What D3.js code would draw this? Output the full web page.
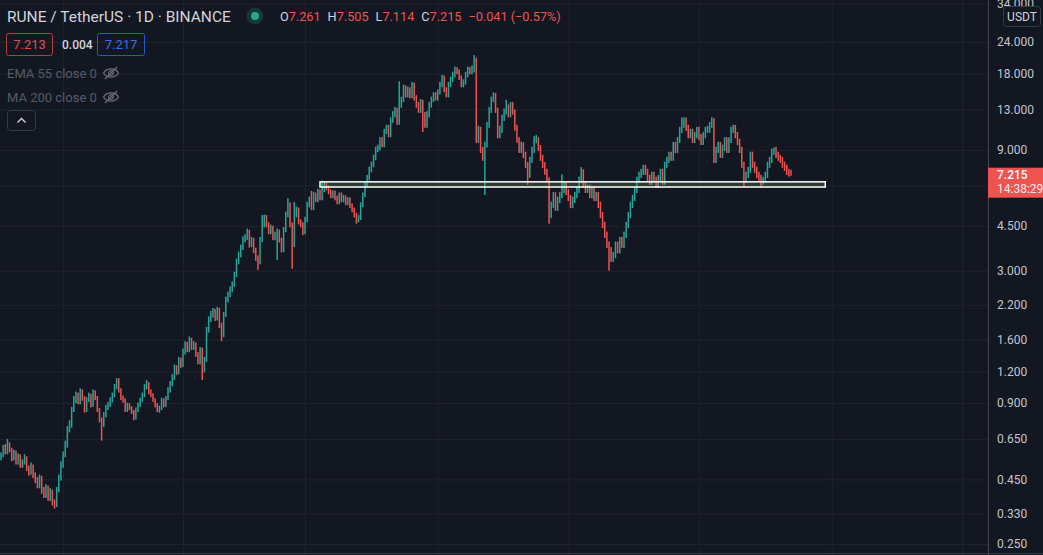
<!DOCTYPE html>
<html>
<head>
<meta charset="utf-8">
<title>RUNE / TetherUS</title>
<script src="https://cdn.jsdelivr.net/npm/d3@7"></script>
<style>
  html, body { margin: 0; padding: 0; background: #131722; overflow: hidden; }
  svg { display: block; }
</style>
</head>
<body>
<script>
// daily candles (open of each day = previous close)
var firstOpen = 0.55;
var closes = [
  0.561, 0.598, 0.576, 0.615, 0.587, 0.546, 0.576, 0.527, 0.556, 0.512,
  0.527, 0.546, 0.498, 0.481, 0.507, 0.467, 0.447, 0.427, 0.455, 0.408,
  0.390, 0.416, 0.380, 0.401, 0.366, 0.356, 0.408, 0.455, 0.512, 0.561,
  0.615, 0.704, 0.737, 0.845, 0.925, 0.967, 0.909, 0.995, 0.941, 0.845,
  0.925, 0.967, 0.884, 0.995, 0.941, 0.845, 0.771, 0.737, 0.807, 0.860,
  0.884, 0.925, 0.967, 1.04, 1.10, 1.01, 0.941, 0.925, 0.845, 0.884,
  0.860, 0.830, 0.786, 0.845, 0.884, 0.925, 0.967, 1.04, 1.07, 0.995,
  0.967, 0.925, 0.884, 0.845, 0.860, 0.925, 0.884, 0.941, 1.01, 1.07,
  1.13, 1.24, 1.19, 1.33, 1.27, 1.43, 1.53, 1.46, 1.60, 1.49,
  1.53, 1.40, 1.31, 1.46, 1.22, 1.33, 1.75, 1.92, 2.01, 2.06,
  1.95, 2.10, 1.83, 1.67, 2.01, 2.30, 2.41, 2.52, 2.64, 2.89,
  3.25, 3.46, 3.69, 3.97, 4.05, 4.27, 3.80, 3.97, 3.62, 3.37,
  3.25, 3.97, 4.55, 4.85, 4.55, 4.27, 4.43, 4.05, 4.16, 4.27,
  3.97, 3.62, 4.35, 4.98, 5.46, 4.55, 3.80, 4.98, 5.21, 4.67,
  4.55, 4.27, 4.76, 5.46, 5.71, 5.32, 5.97, 5.71, 6.14, 5.81,
  6.25, 6.55, 6.37, 6.14, 5.92, 6.08, 5.81, 5.61, 5.97, 5.71,
  5.81, 5.56, 5.71, 5.41, 5.21, 4.98, 4.76, 4.85, 5.46, 5.97,
  6.55, 6.97, 7.50, 7.85, 8.37, 9.00, 9.16, 9.85, 9.41, 10.6,
  11.0, 10.3, 11.8, 12.4, 12.9, 11.6, 13.5, 14.2, 15.8, 14.8,
  15.5, 14.7, 16.2, 14.4, 13.5, 12.9, 13.9, 12.4, 11.3, 12.4,
  13.5, 14.2, 14.8, 14.4, 15.2, 16.2, 17.3, 15.5, 14.8, 16.2,
  17.0, 17.8, 18.6, 18.3, 17.3, 16.2, 16.6, 17.8, 18.6, 18.3,
  18.6, 20.4, 9.85, 10.8, 9.00, 8.37, 9.41, 11.3, 12.9, 14.2,
  14.8, 12.9, 10.3, 10.8, 12.0, 12.7, 13.2, 12.4, 13.5, 12.7,
  11.0, 9.85, 9.00, 9.41, 8.60, 7.85, 7.17, 8.21, 9.00, 9.85,
  9.85, 9.16, 8.37, 7.85, 7.37, 6.85, 4.98, 5.46, 5.97, 5.32,
  5.71, 5.97, 6.25, 6.55, 6.14, 5.81, 5.46, 5.71, 5.97, 6.25,
  6.85, 7.37, 6.55, 6.25, 6.37, 5.97, 6.25, 5.81, 5.97, 5.46,
  4.98, 4.55, 4.16, 3.80, 3.62, 3.37, 3.46, 3.80, 3.62, 3.97,
  3.80, 4.16, 4.55, 4.98, 5.46, 5.81, 6.25, 6.85, 7.17, 7.37,
  7.64, 7.37, 6.97, 6.73, 7.17, 6.85, 6.55, 6.97, 7.37, 6.73,
  7.85, 8.21, 8.60, 8.37, 9.41, 9.00, 9.85, 10.8, 11.3, 11.8,
  11.0, 10.3, 10.6, 9.85, 10.3, 10.8, 10.1, 9.67, 10.3, 10.8,
  10.8, 11.3, 11.8, 8.21, 9.00, 9.41, 8.60, 9.16, 9.85, 9.00,
  9.85, 10.8, 11.0, 10.3, 9.67, 9.00, 7.85, 6.85, 7.17, 7.50,
  8.60, 7.85, 7.50, 7.17, 6.97, 6.73, 6.85, 7.17, 7.85, 8.21,
  8.84, 9.00, 8.60, 8.37, 8.21, 7.85, 7.64, 7.37, 7.261, 7.215
];
var highs = [
  0.575, 0.615, 0.62, 0.65, 0.63, 0.60, 0.59, 0.585, 0.57, 0.565,
  0.54, 0.565, 0.555, 0.51, 0.525, 0.515, 0.48, 0.46, 0.47, 0.465,
  0.42, 0.43, 0.425, 0.415, 0.41, 0.375, 0.42, 0.47, 0.53, 0.58,
  0.64, 0.73, 0.77, 0.87, 0.96, 1.0, 0.99, 1.03, 1.02, 0.96,
  0.95, 0.99, 0.98, 1.02, 1.01, 0.96, 0.86, 0.79, 0.83, 0.885,
  0.91, 0.95, 0.99, 1.07, 1.13, 1.13, 1.03, 0.965, 0.94, 0.905,
  0.90, 0.875, 0.845, 0.865, 0.905, 0.945, 0.99, 1.07, 1.11, 1.09,
  1.02, 0.985, 0.94, 0.90, 0.88, 0.945, 0.94, 0.96, 1.04, 1.10,
  1.17, 1.28, 1.27, 1.37, 1.36, 1.48, 1.58, 1.57, 1.65, 1.63,
  1.58, 1.56, 1.43, 1.50, 1.49, 1.37, 1.80, 1.98, 2.08, 2.14,
  2.12, 2.16, 2.14, 1.87, 2.06, 2.37, 2.48, 2.60, 2.72, 2.97,
  3.35, 3.57, 3.80, 4.10, 4.18, 4.40, 4.35, 4.08, 4.05, 3.70,
  3.45, 4.08, 4.98, 5.00, 4.98, 4.66, 4.56, 4.52, 4.28, 4.40,
  4.36, 4.05, 4.46, 5.13, 5.80, 5.58, 4.65, 5.60, 5.37, 5.33,
  4.78, 4.66, 4.90, 5.62, 5.88, 6.20, 6.15, 6.10, 6.32, 6.28,
  6.80, 6.74, 6.70, 6.51, 6.28, 6.22, 6.22, 5.94, 6.11, 6.11,
  5.98, 5.94, 5.84, 5.84, 5.53, 5.33, 5.09, 4.99, 5.59, 6.11,
  6.74, 7.17, 7.72, 8.08, 8.61, 9.26, 9.43, 10.1, 10.1, 10.9,
  11.3, 11.3, 12.1, 12.8, 13.3, 13.2, 16.8, 14.6, 16.3, 16.2,
  16.0, 15.9, 16.7, 16.6, 14.8, 13.9, 14.3, 14.2, 12.7, 12.8,
  13.9, 14.6, 15.2, 15.2, 15.6, 16.7, 17.8, 17.7, 15.9, 16.7,
  17.5, 18.3, 19.2, 19.1, 18.7, 17.7, 17.1, 18.3, 19.2, 19.1,
  19.4, 21.3, 20.8, 11.2, 11.1, 9.25, 9.7, 11.6, 13.3, 14.6,
  15.2, 15.1, 13.2, 11.2, 12.4, 13.1, 14.2, 13.6, 13.9, 13.9,
  13.0, 11.3, 10.1, 9.7, 9.65, 8.85, 8.05, 8.45, 9.26, 10.2,
  10.3, 10.1, 9.4, 8.6, 8.05, 7.58, 7.02, 5.62, 6.14, 6.12,
  5.88, 6.14, 7.2, 6.74, 6.72, 6.3, 5.97, 5.88, 6.14, 6.43,
  7.05, 7.7, 7.55, 6.74, 6.55, 6.55, 6.43, 6.43, 6.14, 6.14,
  5.62, 5.12, 4.68, 4.28, 3.91, 3.72, 3.56, 3.91, 3.91, 4.08,
  4.08, 4.28, 4.68, 5.12, 5.62, 5.98, 6.43, 7.05, 7.38, 7.58,
  7.86, 7.86, 7.58, 7.17, 7.38, 7.38, 7.05, 7.17, 7.58, 7.58,
  8.08, 8.45, 8.85, 8.85, 9.68, 9.68, 10.1, 11.1, 12.1, 12.1,
  12.1, 11.3, 10.9, 10.9, 10.6, 11.1, 11.1, 10.4, 10.6, 11.1,
  11.2, 11.6, 12.1, 12.0, 9.26, 9.68, 9.68, 9.43, 10.1, 10.1,
  10.1, 11.1, 11.3, 11.3, 10.6, 9.95, 9.26, 8.08, 7.38, 7.72,
  8.85, 8.85, 8.08, 7.72, 7.38, 7.17, 7.05, 7.38, 8.08, 8.45,
  9.1, 9.2, 9.26, 8.85, 8.6, 8.45, 8.08, 7.86, 7.58, 7.505
];
var lows = [
  0.535, 0.55, 0.565, 0.565, 0.575, 0.53, 0.535, 0.515, 0.515, 0.50,
  0.50, 0.515, 0.485, 0.465, 0.47, 0.455, 0.435, 0.415, 0.415, 0.395,
  0.38, 0.38, 0.37, 0.37, 0.355, 0.345, 0.35, 0.40, 0.445, 0.50,
  0.55, 0.60, 0.69, 0.72, 0.83, 0.90, 0.89, 0.89, 0.92, 0.825,
  0.83, 0.91, 0.865, 0.87, 0.925, 0.83, 0.755, 0.64, 0.725, 0.79,
  0.845, 0.87, 0.905, 0.95, 1.02, 0.99, 0.925, 0.905, 0.83, 0.83,
  0.845, 0.815, 0.77, 0.775, 0.83, 0.87, 0.91, 0.95, 1.02, 0.975,
  0.95, 0.91, 0.865, 0.83, 0.825, 0.845, 0.865, 0.87, 0.925, 0.99,
  1.05, 1.11, 1.16, 1.17, 1.24, 1.25, 1.40, 1.43, 1.43, 1.46,
  1.46, 1.37, 1.28, 1.28, 1.11, 1.19, 1.31, 1.71, 1.88, 1.96,
  1.90, 1.91, 1.78, 1.58, 1.64, 1.97, 2.25, 2.36, 2.47, 2.59,
  2.83, 3.18, 3.39, 3.62, 3.88, 3.97, 3.70, 3.72, 3.52, 3.28,
  3.02, 3.18, 3.89, 4.45, 4.45, 4.18, 4.18, 3.96, 3.96, 3.30,
  3.88, 3.54, 3.55, 4.26, 4.88, 4.45, 3.05, 3.72, 4.88, 4.57,
  4.45, 4.15, 4.18, 4.66, 5.34, 5.21, 5.21, 5.59, 5.59, 5.69,
  5.69, 6.12, 6.23, 6.01, 5.80, 5.80, 5.69, 5.49, 5.49, 5.59,
  5.59, 5.44, 5.44, 5.30, 5.10, 4.87, 4.60, 4.66, 4.75, 5.34,
  5.85, 6.41, 6.82, 7.34, 7.68, 8.19, 8.81, 8.96, 9.21, 9.21,
  10.4, 10.1, 10.1, 11.5, 12.1, 11.3, 11.3, 13.2, 13.9, 14.5,
  14.5, 14.4, 14.4, 14.1, 13.2, 12.6, 12.6, 10.6, 11.0, 11.0,
  12.1, 13.2, 13.9, 14.1, 14.1, 14.9, 15.9, 15.2, 14.5, 14.5,
  15.9, 16.7, 17.4, 17.9, 17.0, 15.9, 15.9, 16.3, 17.4, 17.9,
  17.9, 18.2, 9.6, 9.6, 8.75, 8.15, 5.97, 9.2, 11.0, 12.6,
  13.9, 12.6, 10.0, 10.0, 10.5, 11.7, 12.4, 12.1, 12.1, 12.4,
  10.7, 9.6, 8.75, 8.75, 8.35, 7.62, 6.55, 6.98, 8.0, 8.75,
  9.55, 8.9, 8.15, 7.62, 7.17, 6.66, 4.6, 4.84, 5.3, 5.17,
  5.17, 5.55, 5.8, 6.08, 5.97, 5.65, 5.3, 5.3, 5.55, 5.8,
  6.08, 6.66, 6.37, 6.08, 6.08, 5.8, 5.8, 5.65, 5.65, 5.3,
  4.84, 4.42, 4.04, 3.69, 3.0, 3.25, 3.25, 3.36, 3.51, 3.51,
  3.69, 3.69, 4.04, 4.42, 4.84, 5.3, 5.65, 6.08, 6.66, 6.97,
  7.17, 7.17, 6.78, 6.55, 6.55, 6.66, 6.37, 6.37, 6.78, 6.55,
  6.55, 7.64, 7.99, 8.15, 8.15, 8.75, 8.75, 9.58, 10.5, 11.0,
  10.7, 10.0, 10.0, 9.58, 9.58, 10.0, 9.83, 9.41, 9.41, 10.0,
  10.5, 10.5, 11.0, 7.99, 7.99, 8.75, 8.37, 8.37, 8.91, 8.75,
  8.75, 9.58, 10.5, 10.0, 9.41, 8.75, 7.64, 6.45, 6.66, 6.97,
  7.3, 7.64, 7.3, 6.97, 6.78, 6.4, 6.55, 6.66, 6.97, 7.64,
  7.99, 8.6, 8.37, 8.15, 7.99, 7.64, 7.43, 7.17, 7.06, 7.114
];
var priceTicks = [0.25, 0.33, 0.45, 0.65, 0.9, 1.2, 1.6, 2.2, 3, 4.5, 6.5, 9, 13, 18, 24, 34];
var monthTicks = [29, 85, 142, 204, 265, 326, 388, 449];
var zoneLevels = [6.42, 6.73];
var zoneSpan = [149, 385];

var title = "RUNE / TetherUS \u00b7 1D \u00b7 BINANCE";
var ohlcKeys = ["O", "H", "L", "C"];
var ohlcValues = ["7.261", "7.505", "7.114", "7.215"];
var changeText = "\u22120.041 (\u22120.57%)";
var bidAsk = ["7.213", "0.004", "7.217"];
var studies = ["EMA 55 close 0", "MA 200 close 0"];
var lastPrice = 7.215;
var countdown = "14:38:29";
var currency = "USDT";

(function () {
  var W = 1043, H = 555, axisX = 988;
  var up = "#26a69a", down = "#ef5350";
  var gridColor = "#1f232e";
  var font = "Roboto, 'Noto Sans', sans-serif";

  function run () {
    var svg = d3.select("body").append("svg")
        .attr("width", W)
        .attr("height", H)
        .style("background", "#131722");

    var x = d3.scaleLinear().domain([0, closes.length - 1]).range([1, 791]);
    var y = d3.scaleLog().domain([0.25, 24]).range([544, 42]);
    var py = y(lastPrice);

    // grid
    svg.append("g")
        .call(d3.axisBottom(x).tickValues(monthTicks).tickSize(H).tickFormat(""))
        .call(function (g) {
          g.select(".domain").remove();
          g.selectAll("line").attr("stroke", gridColor);
        });
    svg.append("g")
        .call(d3.axisRight(y).tickValues(priceTicks).tickSize(axisX).tickFormat(""))
        .call(function (g) {
          g.select(".domain").remove();
          g.selectAll("line").attr("stroke", gridColor);
        });

    // candles: zoomed out this far each one is just a thin bar from low to high
    var candles = closes.map(function (c, i) {
      var o = i ? closes[i - 1] : firstOpen;
      return { i: i, o: o, c: c, h: highs[i], l: lows[i] };
    });

    svg.append("g").selectAll("rect")
        .data(candles)
        .join("rect")
        .attr("fill", function (d) { return d.c >= d.o ? up : down; })
        .attr("x", function (d) { return x(d.i) - 0.75; })
        .attr("width", 1.5)
        .attr("y", function (d) { return y(d.h); })
        .attr("height", function (d) { return Math.max(1, y(d.l) - y(d.h)); });

    // support zone drawing
    svg.append("rect")
        .attr("x", x(zoneSpan[0]))
        .attr("width", x(zoneSpan[1]) - x(zoneSpan[0]))
        .attr("y", y(zoneLevels[1]))
        .attr("height", y(zoneLevels[0]) - y(zoneLevels[1]))
        .attr("fill", "rgba(120,165,95,0.25)")
        .attr("stroke", "#ffffff")
        .attr("stroke-width", 1.5);

    // price scale
    svg.append("rect")
        .attr("x", axisX).attr("y", 0)
        .attr("width", W - axisX).attr("height", H)
        .attr("fill", "#131722");
    svg.append("g")
        .attr("transform", "translate(" + axisX + ",0)")
        .call(d3.axisRight(y)
          .tickValues(priceTicks.filter(function (v) { return Math.abs(y(v) - py - 8) > 16; }))
          .tickSize(0).tickPadding(9)
          .tickFormat(d3.format(".3f")))
        .call(function (g) {
          g.attr("font-family", font).attr("font-size", 12);
          g.select(".domain").remove();
          g.selectAll("text").attr("fill", "#c2c5cc");
        });
    svg.append("line")
        .attr("x1", axisX + 0.5).attr("x2", axisX + 0.5)
        .attr("y1", 0).attr("y2", H)
        .attr("stroke", "#434651");
    svg.append("line")
        .attr("x1", 0).attr("x2", W)
        .attr("y1", 553.5).attr("y2", 553.5)
        .attr("stroke", "#363a45");

    svg.append("rect")
        .attr("x", 1003.5).attr("y", 6.5)
        .attr("width", 37).attr("height", 20).attr("rx", 3)
        .attr("fill", "#131722").attr("stroke", "#363a45");
    svg.append("text")
        .attr("x", 1022).attr("y", 20.5)
        .attr("text-anchor", "middle")
        .attr("font-family", font).attr("font-size", 12)
        .attr("fill", "#d1d4dc")
        .text(currency);

    // last price label
    svg.append("rect")
        .attr("x", axisX).attr("y", py - 6.5)
        .attr("width", W - axisX).attr("height", 30)
        .attr("fill", "#ef5350");
    svg.append("text")
        .attr("x", 997).attr("y", py + 5)
        .attr("font-family", font).attr("font-size", 12).attr("font-weight", 500)
        .attr("fill", "#ffffff")
        .text(d3.format(".3f")(lastPrice));
    svg.append("text")
        .attr("x", 997).attr("y", py + 19)
        .attr("font-family", font).attr("font-size", 12)
        .attr("fill", "#ffe9e9")
        .text(countdown);

    // legend
    var lg = svg.append("g").attr("font-family", font);
    lg.append("text")
        .attr("x", 7).attr("y", 21.5)
        .attr("font-size", 15.5)
        .attr("fill", "#d1d4dc")
        .text(title);
    lg.append("circle").attr("cx", 255).attr("cy", 16).attr("r", 8.5).attr("fill", "#1a3634");
    lg.append("circle").attr("cx", 255).attr("cy", 16).attr("r", 4).attr("fill", "#22ab94");

    var ohlc = lg.append("text")
        .attr("x", 280).attr("y", 21)
        .attr("font-size", 12.7);
    ohlcKeys.forEach(function (k, i) {
      ohlc.append("tspan").attr("dx", i ? 7 : 0).attr("fill", "#d1d4dc").text(k);
      ohlc.append("tspan").attr("fill", down).text(ohlcValues[i]);
    });
    ohlc.append("tspan").attr("dx", 7).attr("fill", down).text(changeText);

    lg.append("rect")
        .attr("x", 6.5).attr("y", 33.5).attr("width", 46).attr("height", 22).attr("rx", 2)
        .attr("fill", "none").attr("stroke", "#b23c3e");
    lg.append("text")
        .attr("x", 29.5).attr("y", 49).attr("text-anchor", "middle")
        .attr("font-size", 13).attr("fill", "#d9504e")
        .text(bidAsk[0]);
    lg.append("text")
        .attr("x", 62).attr("y", 48.5)
        .attr("font-size", 12).attr("font-weight", 500).attr("fill", "#d1d4dc")
        .text(bidAsk[1]);
    lg.append("rect")
        .attr("x", 97.5).attr("y", 33.5).attr("width", 47).attr("height", 22).attr("rx", 2)
        .attr("fill", "none").attr("stroke", "#2458d6");
    lg.append("text")
        .attr("x", 121).attr("y", 49).attr("text-anchor", "middle")
        .attr("font-size", 13).attr("fill", "#3b6fe4")
        .text(bidAsk[2]);

    studies.forEach(function (s, i) {
      var cy = 73 + i * 24;
      lg.append("text")
          .attr("x", 7).attr("y", cy + 4.5)
          .attr("font-size", 13).attr("fill", "#565a66")
          .text(s);
      var eye = lg.append("g")
          .attr("transform", "translate(111," + cy + ")")
          .attr("fill", "none").attr("stroke", "#6b6e79").attr("stroke-width", 1.3);
      eye.append("path").attr("d", "M-7.5,0 C-4.5,-5.5 4.5,-5.5 7.5,0 C4.5,5.5 -4.5,5.5 -7.5,0 Z");
      eye.append("circle").attr("r", 2.3);
      eye.append("line").attr("x1", -6).attr("y1", 6).attr("x2", 6).attr("y2", -6);
    });

    lg.append("rect")
        .attr("x", 7.5).attr("y", 110.5).attr("width", 28).attr("height", 20).attr("rx", 3)
        .attr("fill", "#131722").attr("stroke", "#363a45");
    lg.append("path")
        .attr("d", "M17.5,122.5 L21.5,118.5 L25.5,122.5")
        .attr("fill", "none").attr("stroke", "#d1d4dc").attr("stroke-width", 1.4);
  }

  run();
})();
</script>
</body>
</html>
